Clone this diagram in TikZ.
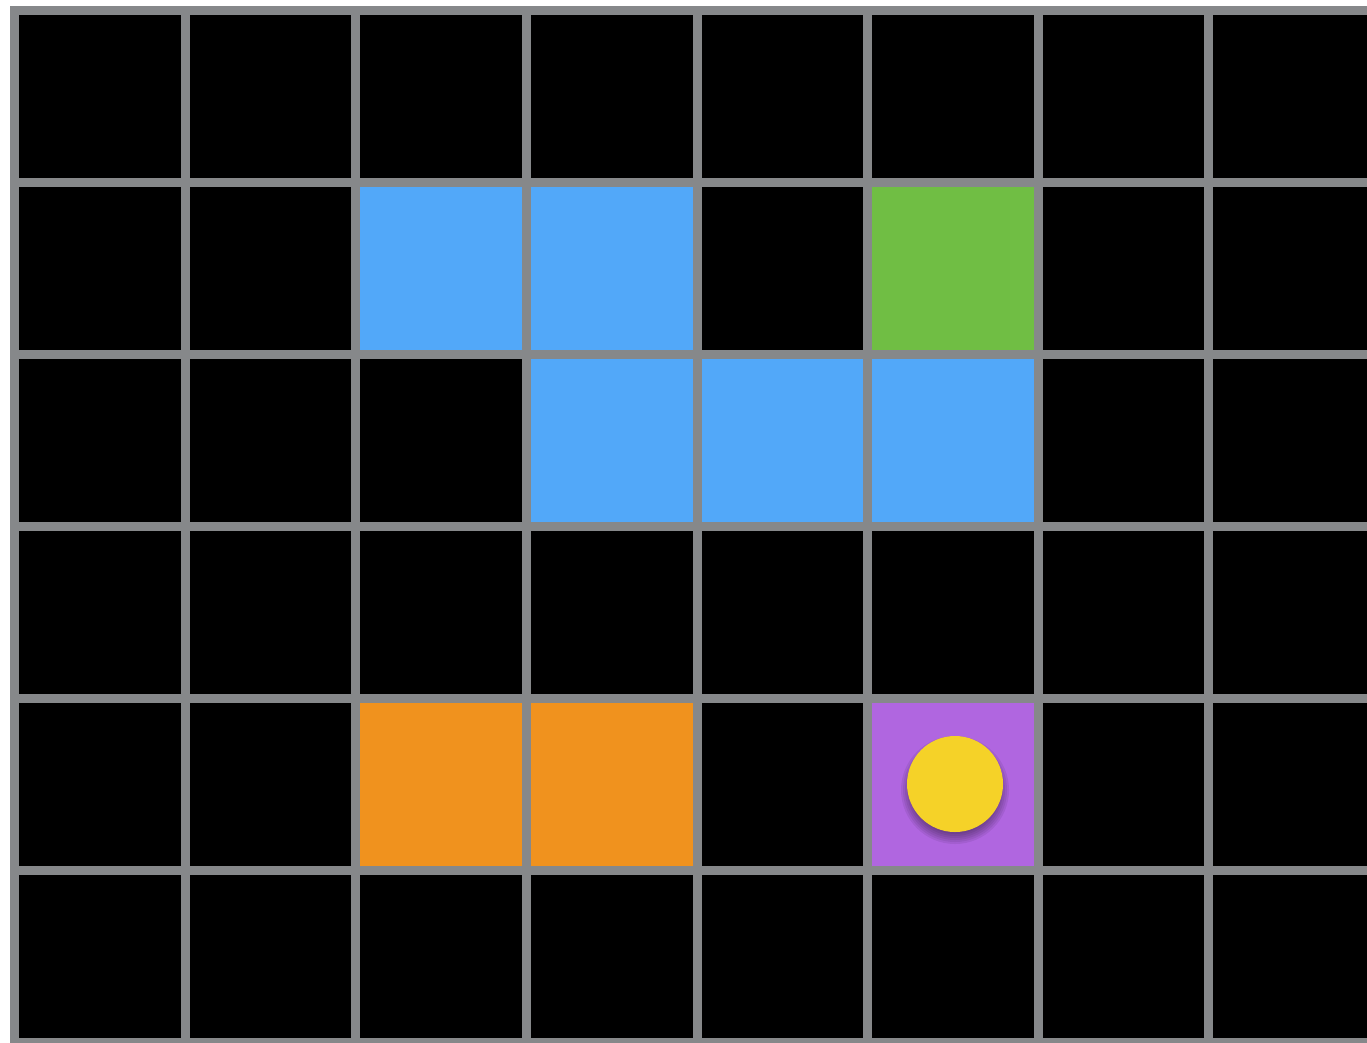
\documentclass[tikz,border=0pt]{standalone}
\usepackage{xcolor}
\usepackage{tikz}
\usetikzlibrary{calc}

\definecolor{gridgray}{RGB}{134,136,138}
\definecolor{tileblue}{RGB}{82,168,249}
\definecolor{tilegreen}{RGB}{112,190,68}
\definecolor{tileorange}{RGB}{240,146,30}
\definecolor{tilepurple}{RGB}{176,102,224}
\definecolor{coinyellow}{RGB}{245,210,40}

\begin{document}
\begin{tikzpicture}[
      x=1pt, y=-1pt,
      gridline/.style={draw=gridgray, line width=9pt},
      coin/.style={circle, fill=coinyellow, minimum size=96pt, inner sep=0pt},
      coinshadow/.style={fill=black, opacity=0.07}
    ]
      \useasboundingbox (0,0) rectangle (1367,1042);
      \clip (0,0) rectangle (1367,1042);
      % board
      \fill[black] (14.7,10.7) rectangle (1400,1060);
      % coloured tiles: column/row/colour
      \foreach \c/\r/\col in {2/1/tileblue, 3/1/tileblue, 5/1/tilegreen,
                              3/2/tileblue, 4/2/tileblue, 5/2/tileblue,
                              2/4/tileorange, 3/4/tileorange, 5/4/tilepurple}
        \fill[\col] ({14.7+\c*170.6},{10.7+\r*172}) rectangle ++(170.6,172);
      % grid lines
      \foreach \i in {0,...,8}
        \draw[gridline] ({14.7+\i*170.6},6) -- ({14.7+\i*170.6},1060);
      \foreach \j in {0,...,6}
        \draw[gridline] (10,{10.7+\j*172}) -- (1400,{10.7+\j*172});
      % coin with soft shadow
      \foreach \rr in {44,46,...,54}
        \fill[coinshadow] (955,790) circle (\rr);
      \node[coin] (coin) at (955,784) {};
    \end{tikzpicture}
\end{document}
